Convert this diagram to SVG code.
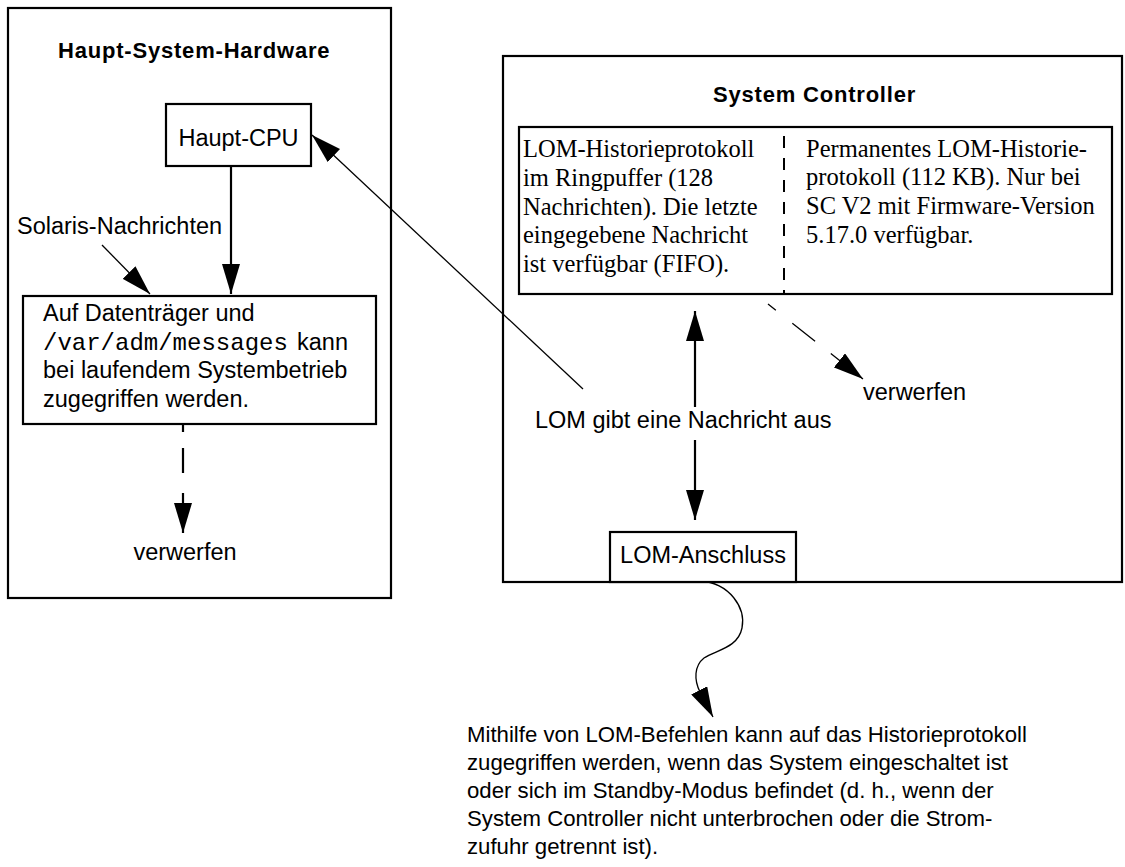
<svg xmlns="http://www.w3.org/2000/svg" width="1125" height="867" viewBox="0 0 1125 867">
<defs>
<marker id="ah" markerUnits="userSpaceOnUse" markerWidth="30" markerHeight="18" viewBox="0 0 30 18" refX="30" refY="9" orient="auto"><path d="M0,0 L30,9 L0,18 Z" fill="#000"/></marker>
</defs>
<style>
.box{fill:#fff;stroke:#000;stroke-width:2.2}
.frame{fill:none;stroke:#000;stroke-width:2.2}
.sans{font-family:"Liberation Sans",Arial,sans-serif;font-size:23.5px;fill:#000}
.title{font-family:"Liberation Sans",Arial,sans-serif;font-size:22px;font-weight:bold;letter-spacing:0.8px;fill:#000}
.serif{font-family:"Liberation Serif","Times New Roman",serif;font-size:24.5px;fill:#000}
.mono{font-family:"Liberation Mono","Courier New",monospace;font-size:24px;fill:#000}
.para{font-family:"Liberation Sans",Arial,sans-serif;font-size:22.2px;fill:#000}
.thick{fill:none;stroke:#000;stroke-width:2.2}
.thin{fill:none;stroke:#000;stroke-width:1.3}
</style>
<rect width="1125" height="867" fill="#fff"/>

<g id="main-hardware">
<rect class="frame" x="8" y="8" width="383" height="590"/>
<text class="title" x="58" y="58">Haupt-System-Hardware</text>
</g>

<g id="system-controller">
<rect class="frame" x="503" y="56" width="619" height="526"/>
<text class="title" x="713" y="102">System Controller</text>
</g>

<g id="connectors">
<line class="thick" x1="231" y1="166" x2="231" y2="294" marker-end="url(#ah)"/>
<line class="thin" x1="102" y1="245" x2="150" y2="294" marker-end="url(#ah)"/>
<line class="thick" x1="183" y1="424" x2="183" y2="533" stroke-dasharray="8 16 25 20 60" marker-end="url(#ah)"/>
<line class="thin" x1="583" y1="389" x2="312" y2="135" marker-end="url(#ah)"/>
<line class="thick" x1="695" y1="407" x2="695" y2="311" marker-end="url(#ah)"/>
<line class="thick" x1="695" y1="440" x2="695" y2="520" marker-end="url(#ah)"/>
<line class="thin" x1="768" y1="304" x2="863" y2="379" stroke-dasharray="10 21 29 20 60" marker-end="url(#ah)"/>
<path class="thin" d="M700,581 C730,583 746,608 742,628 C738,648 716,650 704,658 C694,666 694,680 700,692 L713,717" marker-end="url(#ah)"/>
</g>

<g id="haupt-cpu">
<rect class="box" x="166" y="104" width="145" height="62"/>
<text class="sans" x="238.5" y="146" text-anchor="middle">Haupt-CPU</text>
</g>

<g id="solaris-label">
<text class="sans" x="17" y="234">Solaris-Nachrichten</text>
</g>

<g id="disk-box">
<rect class="box" x="23" y="296" width="353" height="128"/>
<text class="sans" x="43" y="321">Auf Datenträger und</text>
<text class="mono" x="43" y="350">/var/adm/messages</text>
<text class="sans" x="297" y="350">kann</text>
<text class="sans" x="43" y="378">bei laufendem Systembetrieb</text>
<text class="sans" x="43" y="407">zugegriffen werden.</text>
</g>

<g id="discard-left">
<text class="sans" x="185" y="560" text-anchor="middle">verwerfen</text>
</g>

<g id="history-buffer">
<rect class="box" x="519" y="127" width="593" height="167"/>
<line x1="784" y1="136" x2="784" y2="294" stroke="#000" stroke-width="2" stroke-dasharray="12 10"/>
<text class="serif" x="523" y="157">LOM-Historieprotokoll</text>
<text class="serif" x="523" y="186">im Ringpuffer (128</text>
<text class="serif" x="523" y="215">Nachrichten). Die letzte</text>
<text class="serif" x="523" y="243">eingegebene Nachricht</text>
<text class="serif" x="523" y="272">ist verfügbar (FIFO).</text>
<text class="serif" x="806" y="157">Permanentes LOM-Historie-</text>
<text class="serif" x="806" y="185">protokoll (112 KB). Nur bei</text>
<text class="serif" x="806" y="214">SC V2 mit Firmware-Version</text>
<text class="serif" x="806" y="243">5.17.0 verfügbar.</text>
</g>

<g id="lom-label">
<text class="sans" x="535" y="428">LOM gibt eine Nachricht aus</text>
</g>

<g id="discard-right">
<text class="sans" x="863" y="400">verwerfen</text>
</g>

<g id="lom-port">
<rect class="box" x="610" y="532" width="186" height="50"/>
<text class="sans" x="703" y="563" text-anchor="middle">LOM-Anschluss</text>
</g>

<g id="note">
<text class="para" x="467" y="742">Mithilfe von LOM-Befehlen kann auf das Historieprotokoll</text>
<text class="para" x="467" y="770">zugegriffen werden, wenn das System eingeschaltet ist</text>
<text class="para" x="467" y="798">oder sich im Standby-Modus befindet (d. h., wenn der</text>
<text class="para" x="467" y="826">System Controller nicht unterbrochen oder die Strom-</text>
<text class="para" x="467" y="854">zufuhr getrennt ist).</text>
</g>
</svg>
